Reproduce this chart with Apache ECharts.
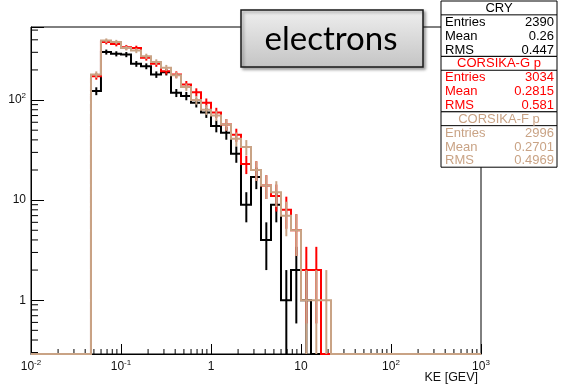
<!DOCTYPE html>
<html><head><meta charset="utf-8">
<script src="https://cdn.jsdelivr.net/npm/echarts@6/dist/echarts.min.js"></script>
<style>html,body{margin:0;padding:0;background:#fff}#c{width:561px;height:384px}</style>
</head><body><div id="c"></div>
<script>
// ---- data ----
const binEdges = [0.0464, 0.0599, 0.0774, 0.1, 0.1292, 0.1668, 0.2154, 0.2783, 0.3594, 0.4642, 0.5995, 0.7743,
  1.0, 1.2915, 1.6681, 2.1544, 2.7826, 3.5938, 4.6416, 5.9948, 7.7426, 10.0, 12.915, 16.681, 21.544];
const cry      = [123, 302, 290, 285, 230, 218, 180, 190, 118, 110, 94, 75, 55, 47, 29, 9, 17, 4, 9, 1, 2, 1, 0, 0];
const corsikaG = [173, 380, 363, 337, 331, 264, 230, 194, 180, 143, 120, 94, 75, 57, 45, 23, 20, 14, 11, 8, 5, 2, 2, 0];
const corsikaF = [180, 393, 380, 331, 312, 274, 240, 210, 177, 135, 100, 80, 70, 57, 41, 34, 20, 14, 12, 7, 5, 1, 1, 1];
const xTickValues = [0.01, 0.1, 1, 10, 100, 1000];
const xTickBase   = ['10', '10', '1', '10', '10', '10'];
const xTickSup    = ['-2', '-1', '', '', '2', '3'];
const yTickValues = [1, 10, 100];
const yTickBase   = ['1', '10', '10'];
const yTickSup    = ['', '', '2'];
const statsNames   = ['CRY', 'CORSIKA-G p', 'CORSIKA-F p'];
const statsEntries = ['2390', '3034', '2996'];
const statsMean    = ['0.26', '0.2815', '0.2701'];
const statsRMS     = ['0.447', '0.581', '0.4969'];
const xAxisTitle = 'KE [GEV]';
const boxTitle = 'electrons';

// ---- styling ----
const X_MIN = 0.01, X_MAX = 1000, Y_MIN = 0.29, Y_MAX = 537;
const COLORS = ['#000000', '#ff0000', '#c9a385'];
const FONT = '"Liberation Sans", Arial, sans-serif';

function tickFmt(values, base, sup) {
  return function (v) {
    for (let i = 0; i < values.length; i++) {
      if (Math.abs(Math.log10(v) - Math.log10(values[i])) < 1e-6) {
        return sup[i] ? '{b|' + base[i] + '}{s|' + sup[i] + '}' : '{b|' + base[i] + '}';
      }
    }
    return '';
  };
}
const richLbl = {
  b: { fontSize: 12, fontFamily: FONT, color: '#111', lineHeight: 16 },
  s: { fontSize: 8, fontFamily: FONT, color: '#111', lineHeight: 8, verticalAlign: 'top' }
};

function histRender(counts, color) {
  return function (params, api) {
    const yb = api.coord([1, Y_MIN])[1];
    const xl = api.coord([X_MIN, 1])[0];
    const xr = api.coord([X_MAX, 1])[0];
    const xs = binEdges.map(e => api.coord([e, 1])[0]);
    const cy = c => (c > 0 ? api.coord([1, Math.max(c, Y_MIN)])[1] : yb);
    const pts = [[xl, yb], [xs[0], yb]];
    for (let i = 0; i < counts.length; i++) {
      const y = cy(counts[i]);
      pts.push([xs[i], y]);
      pts.push([xs[i + 1], y]);
    }
    pts.push([xs[xs.length - 1], yb]);
    pts.push([xr, yb]);
    const children = [{ type: 'polyline', shape: { points: pts }, style: { stroke: color, lineWidth: 2, fill: 'none' } }];
    counts.forEach((c, i) => {
      if (c <= 0) return;
      const xc = api.coord([(binEdges[i] + binEdges[i + 1]) / 2, 1])[0];
      const e = Math.sqrt(c);
      const y1 = api.coord([1, Math.min(c + e, Y_MAX)])[1];
      const y2 = (c - e) > Y_MIN ? api.coord([1, c - e])[1] : yb;
      children.push({ type: 'line', shape: { x1: xc, y1: y1, x2: xc, y2: y2 }, style: { stroke: color, lineWidth: 2 } });
    });
    return { type: 'group', children };
  };
}

const xMinor = [], yMinor = [];
for (let d = -2; d < 3; d++) for (let m = 2; m < 10; m++) xMinor.push(m * Math.pow(10, d));
for (let d = -1; d < 3; d++) for (let m = 2; m < 10; m++) { const v = m * Math.pow(10, d); if (v > Y_MIN && v < Y_MAX) yMinor.push(v); }

function minorRender(params, api) {
  const yb = api.coord([1, Y_MIN])[1];
  const xl = api.coord([X_MIN, 1])[0];
  const ch = [];
  xMinor.forEach(v => { const x = api.coord([v, 1])[0]; ch.push({ type: 'line', shape: { x1: x, y1: yb, x2: x, y2: yb - 5 }, style: { stroke: '#000', lineWidth: 1 } }); });
  yMinor.forEach(v => { const y = api.coord([1, v])[1]; ch.push({ type: 'line', shape: { x1: xl, y1: y, x2: xl + 7, y2: y }, style: { stroke: '#000', lineWidth: 1 } }); });
  return { type: 'group', children: ch };
}

// stats boxes
const SX = 441, SW = 116, STOP = 1, ROWH = 13.85;
const graphics = [];
const gradient = new echarts.graphic.LinearGradient(0, 0, 0, 1, [
  { offset: 0, color: '#efefef' }, { offset: 1, color: '#c4c4c4' }]);
graphics.push({ type: 'rect', z: 100, shape: { x: 241, y: 10, width: 182, height: 57 },
  style: { fill: gradient, stroke: '#1a1a1a', lineWidth: 1.5, shadowBlur: 3, shadowOffsetX: 2, shadowOffsetY: 2, shadowColor: 'rgba(0,0,0,0.35)' } });
graphics.push({ type: 'text', z: 101, x: 331, y: 39,
  style: { text: boxTitle, font: '33px Lato, "Open Sans", sans-serif', fill: '#000', align: 'center', verticalAlign: 'middle' } });
for (let b = 0; b < 3; b++) {
  const y0 = STOP + b * 4 * ROWH;
  const col = COLORS[b];
  graphics.push({ type: 'rect', z: 100, shape: { x: SX, y: y0, width: SW, height: 4 * ROWH }, style: { fill: '#fff', stroke: '#000', lineWidth: 1 } });
  graphics.push({ type: 'line', z: 101, shape: { x1: SX, y1: y0 + ROWH, x2: SX + SW, y2: y0 + ROWH }, style: { stroke: '#000', lineWidth: 1 } });
  graphics.push({ type: 'text', z: 102, x: SX + SW / 2, y: y0 + ROWH / 2 + 0.5,
    style: { text: statsNames[b], font: '13px ' + FONT, fill: col, align: 'center', verticalAlign: 'middle' } });
  const labels = ['Entries', 'Mean', 'RMS'];
  const vals = [statsEntries[b], statsMean[b], statsRMS[b]];
  for (let r = 0; r < 3; r++) {
    const yc = y0 + ROWH * (r + 1.5) + 0.5;
    graphics.push({ type: 'text', z: 102, x: SX + 4, y: yc, style: { text: labels[r], font: '13px ' + FONT, fill: col, align: 'left', verticalAlign: 'middle' } });
    graphics.push({ type: 'text', z: 102, x: SX + SW - 3, y: yc, style: { text: vals[r], font: '13px ' + FONT, fill: col, align: 'right', verticalAlign: 'middle' } });
  }
}
graphics.push({ type: 'text', z: 100, x: 478, y: 378,
  style: { text: xAxisTitle, font: '12.5px ' + FONT, fill: '#111', align: 'right', verticalAlign: 'middle' } });

const chart = echarts.init(document.getElementById('c'), null, { renderer: 'canvas' });
chart.setOption({
  animation: false,
  backgroundColor: '#fff',
  grid: { left: 31, right: 80, top: 27, bottom: 30, show: true, borderColor: '#000', borderWidth: 1, backgroundColor: 'transparent' },
  xAxis: {
    type: 'log', logBase: 10, min: X_MIN, max: X_MAX,
    axisLine: { show: true, lineStyle: { color: '#000', width: 1 } },
    axisTick: { show: true, inside: true, length: 10, lineStyle: { color: '#000', width: 1 } },
    axisLabel: { formatter: tickFmt(xTickValues, xTickBase, xTickSup), rich: richLbl, margin: 5, showMinLabel: true, showMaxLabel: true, hideOverlap: false },
    splitLine: { show: false }
  },
  yAxis: {
    type: 'log', logBase: 10, min: Y_MIN, max: Y_MAX,
    axisLine: { show: true, lineStyle: { color: '#000', width: 1 } },
    axisTick: { show: true, inside: true, length: 13, lineStyle: { color: '#000', width: 1 } },
    axisLabel: { formatter: tickFmt(yTickValues, yTickBase, yTickSup), rich: richLbl, margin: 5, hideOverlap: false },
    splitLine: { show: false }
  },
  graphic: graphics,
  series: [
    { type: 'custom', name: 'minor', renderItem: minorRender, data: [[1, 1]], silent: true, z: 1 },
    { type: 'custom', name: statsNames[0], renderItem: histRender(cry, COLORS[0]), data: [[1, 1]], z: 2 },
    { type: 'custom', name: statsNames[1], renderItem: histRender(corsikaG, COLORS[1]), data: [[1, 1]], z: 3 },
    { type: 'custom', name: statsNames[2], renderItem: histRender(corsikaF, COLORS[2]), data: [[1, 1]], z: 4 }
  ]
});
</script></body></html>
